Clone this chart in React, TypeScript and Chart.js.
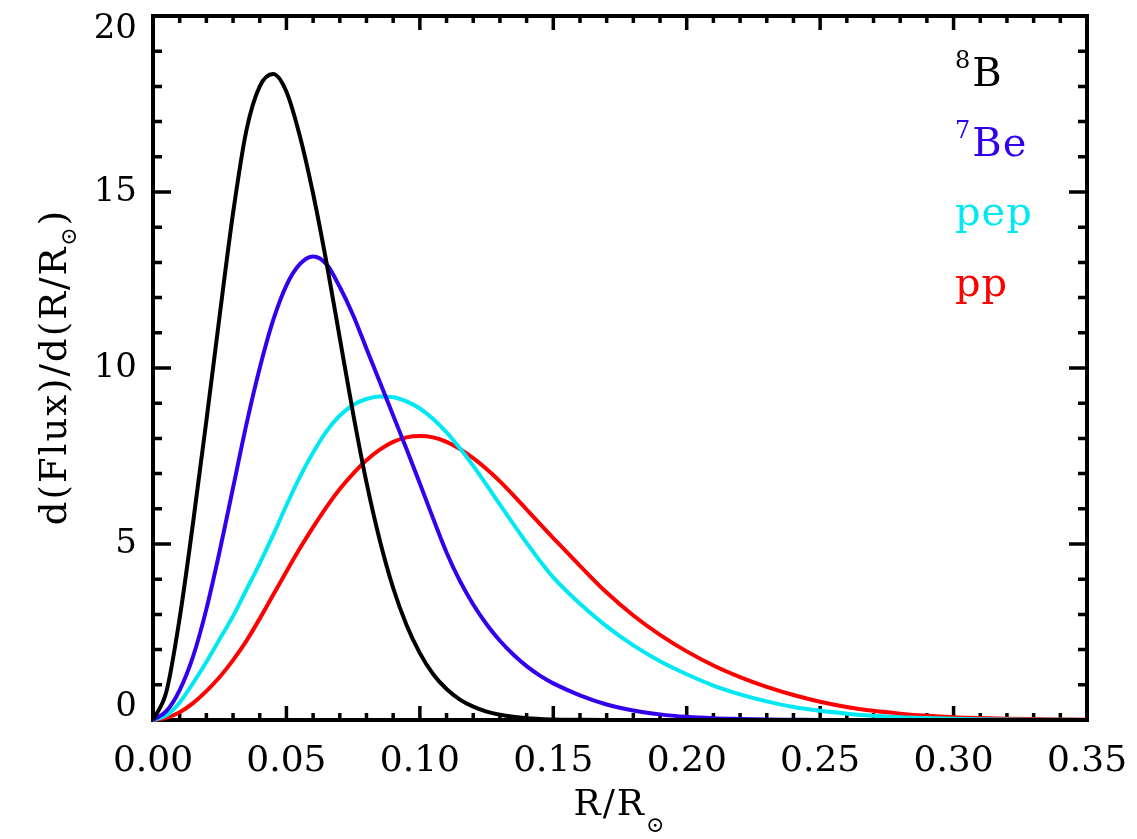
import React, { useEffect, useRef } from 'react';
import { Chart, registerables } from 'chart.js';

Chart.register(...registerables);

// R / R_sun sample positions
const R_VALUES = [
  0, 0.005, 0.01, 0.015, 0.02, 0.025, 0.03, 0.035, 0.04, 0.045,
  0.05, 0.055, 0.06, 0.065, 0.07, 0.075, 0.08, 0.085, 0.09, 0.095,
  0.1, 0.105, 0.11, 0.115, 0.12, 0.125, 0.13, 0.135, 0.14, 0.145,
  0.15, 0.16, 0.17, 0.18, 0.19, 0.2, 0.21, 0.22, 0.23, 0.24,
  0.25, 0.26, 0.27, 0.28, 0.29, 0.3, 0.31, 0.32, 0.33, 0.34, 0.35,
];

const FLUX_B8 = [
  0, 0.8, 2.9, 5.6, 8.5, 11.5, 14.4, 16.75, 18.0, 18.35,
  17.85, 16.6, 14.95, 13.0, 10.85, 8.7, 6.75, 5.1, 3.75, 2.7,
  1.9, 1.3, 0.88, 0.58, 0.38, 0.24, 0.15, 0.09, 0.05, 0.03,
  0.015, 0.005, 0, 0, 0, 0, 0, 0, 0, 0,
  0, 0, 0, 0, 0, 0, 0, 0, 0, 0, 0,
];

const FLUX_BE7 = [
  0, 0.25, 0.85, 1.8, 3.15, 4.8, 6.6, 8.4, 10.0, 11.35,
  12.35, 12.95, 13.17, 12.95, 12.3, 11.5, 10.55, 9.6, 8.65, 7.7,
  6.72, 5.72, 4.76, 3.95, 3.28, 2.72, 2.25, 1.86, 1.53, 1.26,
  1.04, 0.7, 0.44, 0.27, 0.16, 0.09, 0.05, 0.03, 0.015, 0.007,
  0, 0, 0, 0, 0, 0, 0, 0, 0, 0, 0,
];

const FLUX_PEP = [
  0, 0.13, 0.5, 1.05, 1.65, 2.3, 2.95, 3.7, 4.45, 5.25,
  6.1, 6.9, 7.6, 8.2, 8.65, 8.95, 9.12, 9.19, 9.17, 9.05,
  8.85, 8.55, 8.17, 7.72, 7.22, 6.68, 6.12, 5.57, 5.03, 4.52,
  4.05, 3.3, 2.66, 2.12, 1.67, 1.3, 0.98, 0.73, 0.53, 0.37,
  0.26, 0.18, 0.12, 0.08, 0.055, 0.035, 0.022, 0.014, 0.008, 0.004, 0.002,
];

const FLUX_PP = [
  0, 0.06, 0.22, 0.48, 0.82, 1.22, 1.7, 2.25, 2.88, 3.55,
  4.22, 4.87, 5.48, 6.05, 6.56, 7.0, 7.38, 7.68, 7.9, 8.03,
  8.07, 8.03, 7.9, 7.7, 7.44, 7.13, 6.78, 6.39, 5.98, 5.57,
  5.17, 4.38, 3.62, 2.97, 2.42, 1.95, 1.55, 1.22, 0.94, 0.71,
  0.52, 0.37, 0.26, 0.18, 0.12, 0.08, 0.055, 0.037, 0.025, 0.016, 0.01,
];

const SERIES_NAMES = ['8B', '7Be', 'pep', 'pp'];
const LEGEND_SUPS = ['8', '7', '', ''];
const LEGEND_MAIN = ['B', 'Be', 'pep', 'pp'];
const SERIES_COLORS = ['#000000', '#3300ee', '#00e8f4', '#ff0000'];

const X_MIN = 0;
const X_MAX = 0.35;
const X_STEP = 0.05;
const X_MINOR = 0.01;
const Y_MIN = 0;
const Y_MAX = 20;
const Y_STEP = 5;
const Y_MINOR = 1;

const X_TITLE = 'R/R';
const Y_TITLE = 'd(Flux)/d(R/R';
const SUN = '\u2299';

const FONT = '"DejaVu Serif", "Liberation Serif", serif';

const framePlugin = {
  id: 'idlFrame',
  beforeDatasetsDraw(chart: any) {
    const { ctx, chartArea } = chart;
    const { left, right, top, bottom } = chartArea;
    const xs = chart.scales.x;
    const ys = chart.scales.y;
    ctx.save();
    ctx.strokeStyle = '#000';
    ctx.lineCap = 'butt';
    ctx.lineWidth = 3.5;
    const nx = Math.round((X_MAX - X_MIN) / X_MINOR);
    const xMajorEvery = Math.round(X_STEP / X_MINOR);
    for (let i = 1; i < nx; i++) {
      const v = X_MIN + i * X_MINOR;
      const px = xs.getPixelForValue(v);
      const len = i % xMajorEvery === 0 ? 14 : 7;
      ctx.beginPath();
      ctx.moveTo(px, bottom);
      ctx.lineTo(px, bottom - len);
      ctx.moveTo(px, top);
      ctx.lineTo(px, top + len);
      ctx.stroke();
    }
    const ny = Math.round((Y_MAX - Y_MIN) / Y_MINOR);
    const yMajorEvery = Math.round(Y_STEP / Y_MINOR);
    for (let i = 1; i < ny; i++) {
      const v = Y_MIN + i * Y_MINOR;
      const py = ys.getPixelForValue(v);
      const len = i % yMajorEvery === 0 ? 18 : 9;
      ctx.beginPath();
      ctx.moveTo(left, py);
      ctx.lineTo(left + len, py);
      ctx.moveTo(right, py);
      ctx.lineTo(right - len, py);
      ctx.stroke();
    }
    ctx.lineWidth = 4;
    ctx.strokeRect(left, top, right - left, bottom - top);
    ctx.restore();
  },
  afterDraw(chart: any) {
    const { ctx, chartArea } = chart;
    const { left, right, top, bottom } = chartArea;
    ctx.save();
    ctx.fillStyle = '#000';
    ctx.textBaseline = 'alphabetic';
    ctx.textAlign = 'left';

    // x title
    const cx = (left + right) / 2;
    (ctx as any).letterSpacing = '2px';
    ctx.font = `36px ${FONT}`;
    const w1 = ctx.measureText(X_TITLE).width;
    ctx.font = `22px ${FONT}`;
    const w2 = ctx.measureText(SUN).width;
    const startX = cx - (w1 + w2) / 2;
    ctx.font = `36px ${FONT}`;
    ctx.fillText(X_TITLE, startX, bottom + 95);
    ctx.font = `22px ${FONT}`;
    ctx.fillText(SUN, startX + w1, bottom + 112);

    // y title (rotated)
    ctx.translate(66, 367);
    ctx.rotate(-Math.PI / 2);
    (ctx as any).letterSpacing = '2px';
    ctx.font = `37px ${FONT}`;
    const a = ctx.measureText(Y_TITLE).width;
    ctx.font = `22px ${FONT}`;
    const b = ctx.measureText(SUN).width;
    ctx.font = `37px ${FONT}`;
    const c = ctx.measureText(')').width;
    const x0 = -(a + b + c) / 2;
    ctx.fillText(Y_TITLE, x0, 0);
    ctx.font = `22px ${FONT}`;
    ctx.fillText(SUN, x0 + a, 10);
    ctx.font = `37px ${FONT}`;
    ctx.fillText(')', x0 + a + b, 0);
    ctx.setTransform(1, 0, 0, 1, 0, 0);

    // legend (coloured text labels)
    (ctx as any).letterSpacing = '1px';
    const lx = right - 132;
    const baselines = [70, 140, 209, 280];
    for (let i = 0; i < LEGEND_MAIN.length; i++) {
      ctx.fillStyle = SERIES_COLORS[i];
      const by = top + baselines[i];
      let x = lx;
      if (LEGEND_SUPS[i]) {
        ctx.font = `24px ${FONT}`;
        ctx.fillText(LEGEND_SUPS[i], x, by - 18);
        x += ctx.measureText(LEGEND_SUPS[i]).width + 1;
      }
      ctx.font = `40px ${FONT}`;
      ctx.fillText(LEGEND_MAIN[i], x, by);
    }
    ctx.restore();
  },
};

function zeroPadding(scale: any) {
  scale.paddingLeft = 0;
  scale.paddingRight = 0;
  scale.paddingTop = 0;
  scale.paddingBottom = 0;
}

export default function App() {
  const canvasRef = useRef<HTMLCanvasElement | null>(null);

  useEffect(() => {
    const canvas = canvasRef.current;
    if (!canvas) return;
    const series = [FLUX_B8, FLUX_BE7, FLUX_PEP, FLUX_PP];
    const datasets = series.map((vals, i) => ({
      label: SERIES_NAMES[i],
      data: R_VALUES.map((r, k) => ({ x: r, y: vals[k] })),
      borderColor: SERIES_COLORS[i],
      backgroundColor: SERIES_COLORS[i],
      borderWidth: 4,
      pointRadius: 0,
      cubicInterpolationMode: 'monotone' as const,
      fill: false,
      clip: 6,
    }));

    const chart = new Chart(canvas, {
      type: 'line',
      data: { datasets },
      plugins: [framePlugin],
      options: {
        animation: false,
        responsive: false,
        maintainAspectRatio: false,
        layout: { padding: { top: 16, right: 50, left: 0, bottom: 0 } },
        plugins: {
          legend: { display: false },
          tooltip: { enabled: false },
          title: { display: false },
        },
        scales: {
          x: {
            type: 'linear',
            min: X_MIN,
            max: X_MAX,
            grid: { display: false, drawTicks: false },
            border: { display: false },
            ticks: {
              stepSize: X_STEP,
              color: '#000',
              padding: 20,
              maxRotation: 0,
              font: { family: FONT, size: 36 },
              callback: (v: any) => Number(v).toFixed(2),
            },
            afterFit: (scale: any) => {
              scale.height = 119;
              zeroPadding(scale);
            },
          },
          y: {
            type: 'linear',
            min: Y_MIN,
            max: Y_MAX,
            grid: { display: false, drawTicks: false },
            border: { display: false },
            ticks: {
              stepSize: Y_STEP,
              color: '#000',
              padding: 16,
              font: { family: FONT, size: 34, lineHeight: 0.75 },
              callback: (v: any) => {
                const s = String(v);
                if (v === Y_MAX) return ['', s];
                if (v === Y_MIN) return [s, ''];
                return s;
              },
            },
            afterFit: (scale: any) => {
              scale.width = 153;
              zeroPadding(scale);
            },
          },
        },
      },
    });
    return () => chart.destroy();
  }, []);

  return (
    <div style={{ position: 'fixed', left: 0, top: 0, width: 1137, height: 839, background: '#fff' }}>
      <canvas ref={canvasRef} width={1137} height={839} style={{ width: 1137, height: 839, display: 'block' }} />
    </div>
  );
}
